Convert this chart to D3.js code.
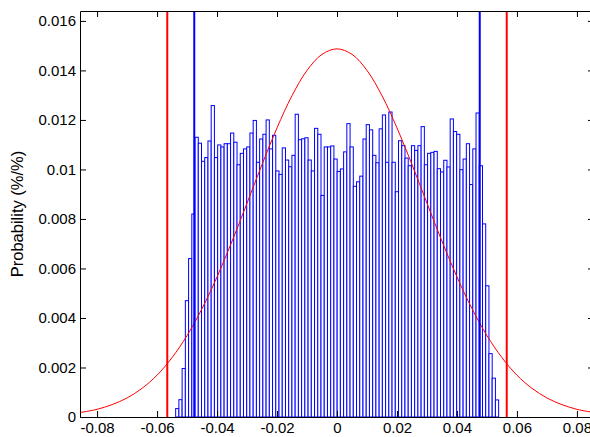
<!DOCTYPE html>
<html lang="en">
<head>
<meta charset="UTF-8">
<title>Histogram</title>
<script src="https://d3js.org/d3.v7.min.js"></script>
<style>
    body { margin:0; background:#fff; }
    .axis text { font:15px "Liberation Sans", Arial, sans-serif; fill:#000; }
    .axis path, .axis line { stroke:#000; stroke-width:1; }
    .bar { fill:#fff; stroke:#0000ff; stroke-width:1; }
</style>
</head>
<body>
<div class="app"></div>
<script>
    // histogram: 100 equal bins between binRange
    var binRange = [-0.0538, 0.0539];
    var probs = [
        0.00034, 0.00070, 0.00196, 0.00470, 0.00640, 0.00820, 0.01130, 0.01106, 0.01033, 0.01048,
        0.01115, 0.01258, 0.01048, 0.01099, 0.01091, 0.01104, 0.01104, 0.01147, 0.01110, 0.01019,
        0.01065, 0.01083, 0.01091, 0.01147, 0.01198, 0.01029, 0.01123, 0.01142, 0.01200, 0.01083,
        0.01138, 0.00994, 0.00980, 0.01087, 0.01038, 0.01011, 0.01057, 0.01223, 0.01120, 0.01124,
        0.01128, 0.01038, 0.00994, 0.01166, 0.01142, 0.00895, 0.01091, 0.01091, 0.01095, 0.01042,
        0.00992, 0.01002, 0.01071, 0.01185, 0.01091, 0.00932, 0.00950, 0.00973, 0.01123, 0.01181,
        0.01160, 0.01057, 0.01027, 0.01164, 0.01220, 0.01029, 0.01232, 0.01029, 0.00910, 0.01116,
        0.01096, 0.01046, 0.01015, 0.01096, 0.01077, 0.01096, 0.01173, 0.01019, 0.01065, 0.01069,
        0.01073, 0.01003, 0.00990, 0.01037, 0.01010, 0.01204, 0.01153, 0.01142, 0.00999, 0.01042,
        0.01104, 0.00939, 0.01083, 0.01228, 0.01015, 0.00780, 0.00530, 0.00256, 0.00157, 0.00069
    ];

    // fitted normal curve
    var curveX = [-0.0857, -0.08, -0.075, -0.07, -0.065, -0.06, -0.055, -0.05, -0.045, -0.04, -0.035, -0.03, -0.025, -0.02, -0.015, -0.01, -0.005,
                  0, 0.005, 0.01, 0.015, 0.02, 0.025, 0.03, 0.035, 0.04, 0.045, 0.05, 0.055, 0.06, 0.065, 0.07, 0.075, 0.08, 0.0857];
    var curveY = [0.00018, 0.00031, 0.00050, 0.00077, 0.00116, 0.00169, 0.00240, 0.00329, 0.00438, 0.00566, 0.00710, 0.00864, 0.01020, 0.01168, 0.01298, 0.01400, 0.01465,
                  0.01487, 0.01465, 0.01400, 0.01298, 0.01168, 0.01020, 0.00864, 0.00710, 0.00566, 0.00438, 0.00329, 0.00240, 0.00169, 0.00116, 0.00077, 0.00050, 0.00031, 0.00018];

    var normLines = [-0.0566, 0.0566];   // red
    var dataLines = [-0.0476, 0.0476];   // blue

    var xTicks = [-0.08, -0.06, -0.04, -0.02, 0, 0.02, 0.04, 0.06, 0.08];
    var yTicks = [0, 0.002, 0.004, 0.006, 0.008, 0.01, 0.012, 0.014, 0.016];
    var xDomain = [-0.0857, 0.0857],
        yDomain = [0, 0.0164];

    var width = 590,
        height = 437,
        margin = {top:11, right:-4, bottom:20, left:80},
        w = width - margin.left - margin.right,
        h = height - margin.top - margin.bottom;

    var svg = d3.select('.app').append('svg')
        .attr('width', width)
        .attr('height', height);

    var g = svg.append('g')
        .attr('transform', 'translate(' + margin.left + ',' + margin.top + ')');

    var x = d3.scaleLinear().domain(xDomain).range([0, w]);
    var y = d3.scaleLinear().domain(yDomain).range([h, 0]);

    g.append('clipPath').attr('id', 'clip')
        .append('rect').attr('width', w).attr('height', h);

    // bars
    var step = (binRange[1] - binRange[0]) / probs.length;
    g.selectAll('.bar')
        .data(probs)
        .enter().append('rect')
        .attr('class', 'bar')
        .attr('x', function(d, i){ return x(binRange[0] + i * step); })
        .attr('width', function(d, i){ return x(binRange[0] + (i + 1) * step) - x(binRange[0] + i * step); })
        .attr('y', function(d){ return y(d); })
        .attr('height', function(d){ return h - y(d); });

    // normal curve
    var line = d3.line()
        .x(function(d){ return x(d[0]); })
        .y(function(d){ return y(d[1]); })
        .curve(d3.curveCatmullRom);
    g.append('path')
        .datum(d3.zip(curveX, curveY))
        .attr('clip-path', 'url(#clip)')
        .attr('fill', 'none')
        .attr('stroke', '#ff0000')
        .attr('stroke-width', 1)
        .attr('d', line);

    // vertical markers
    function vlines(vals, color) {
        g.selectAll(null)
            .data(vals)
            .enter().append('line')
            .attr('x1', function(d){ return x(d); })
            .attr('x2', function(d){ return x(d); })
            .attr('y1', 0)
            .attr('y2', h)
            .attr('stroke', color)
            .attr('stroke-width', 2);
    }
    vlines(dataLines, '#0000ff');
    vlines(normLines, '#ff0000');

    // axes, ticks inward
    var fmt = function(d){ return String(d); };
    g.append('g').attr('class', 'axis')
        .attr('transform', 'translate(0,' + h + ')')
        .call(d3.axisBottom(x).tickValues(xTicks).tickFormat(fmt).tickSizeInner(-6).tickSizeOuter(0).tickPadding(5));
    g.append('g').attr('class', 'axis')
        .call(d3.axisTop(x).tickValues(xTicks).tickFormat('').tickSizeInner(-6).tickSizeOuter(0));
    g.append('g').attr('class', 'axis')
        .call(d3.axisLeft(y).tickValues(yTicks).tickFormat(fmt).tickSizeInner(-6).tickSizeOuter(0).tickPadding(4));
    g.append('g').attr('class', 'axis')
        .attr('transform', 'translate(' + w + ',0)')
        .call(d3.axisRight(y).tickValues(yTicks).tickFormat('').tickSizeInner(-6).tickSizeOuter(0));

    g.selectAll('.axis text').attr('font-family', null);

    // y label
    svg.append('text')
        .attr('transform', 'translate(23,' + (margin.top + h / 2) + ') rotate(-90)')
        .attr('text-anchor', 'middle')
        .style('font', '16.5px "Liberation Sans", Arial, sans-serif')
        .text('Probability (%/%)');
</script>
</body>
</html>
